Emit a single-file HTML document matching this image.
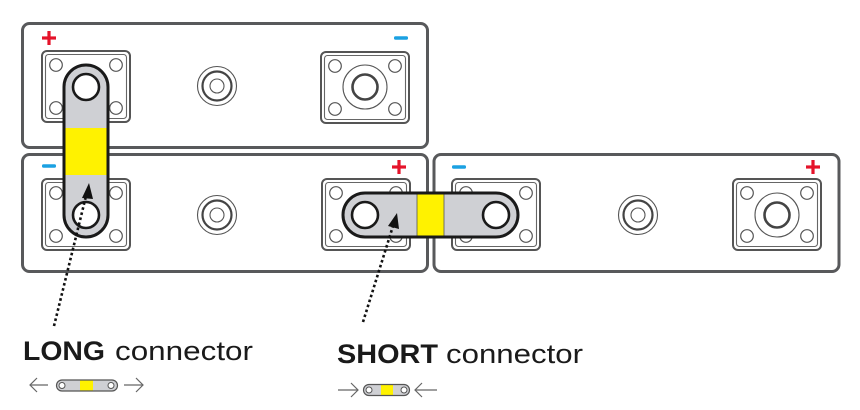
<!DOCTYPE html>
<html><head><meta charset="utf-8"><style>
html,body{margin:0;padding:0;background:#fff;}
svg{display:block;}
</style></head><body>
<svg width="860" height="410" viewBox="0 0 860 410" xmlns="http://www.w3.org/2000/svg">
<defs>
<g id="plate">
  <rect x="0" y="0" width="88" height="71" rx="5" fill="#fff" stroke="#555" stroke-width="2"/>
  <rect x="3.5" y="3.5" width="81" height="64" rx="3" fill="none" stroke="#666" stroke-width="1.1"/>
  <circle cx="14" cy="14" r="6.3" fill="#fff" stroke="#555" stroke-width="1.2"/>
  <circle cx="74" cy="14" r="6.3" fill="#fff" stroke="#555" stroke-width="1.2"/>
  <circle cx="14" cy="57" r="6.3" fill="#fff" stroke="#555" stroke-width="1.2"/>
  <circle cx="74" cy="57" r="6.3" fill="#fff" stroke="#555" stroke-width="1.2"/>
</g>
<g id="bolt">
  <circle cx="0" cy="0" r="22" fill="none" stroke="#555" stroke-width="1.1"/>
  <circle cx="0" cy="0" r="12.5" fill="none" stroke="#444" stroke-width="2.6"/>
</g>
<g id="vent">
  <circle cx="0" cy="0" r="19.5" fill="none" stroke="#555" stroke-width="1.1"/>
  <circle cx="0" cy="0" r="14.5" fill="none" stroke="#444" stroke-width="2.2"/>
  <circle cx="0" cy="0" r="7" fill="none" stroke="#555" stroke-width="1.1"/>
</g>
<g id="plus">
  <rect x="-7" y="-1.6" width="14" height="3.2" fill="#e5132a"/>
  <rect x="-1.6" y="-7" width="3.2" height="14" fill="#e5132a"/>
</g>
<g id="minus">
  <rect x="-7" y="-1.8" width="14" height="3.6" rx="1.5" fill="#1ba1e2"/>
</g>
</defs>

<!-- batteries -->
<rect x="22.5" y="23.5" width="405" height="124" rx="7" fill="#fff" stroke="#58595b" stroke-width="3"/>
<rect x="22.5" y="154.5" width="405" height="117" rx="7" fill="#fff" stroke="#58595b" stroke-width="3"/>
<rect x="434" y="154.5" width="405" height="117" rx="7" fill="#fff" stroke="#58595b" stroke-width="3"/>

<!-- battery 1 -->
<use href="#plate" x="42" y="51"/>
<use href="#plate" x="321" y="52"/>
<use href="#bolt" x="365" y="87"/>
<use href="#vent" x="217" y="86"/>
<use href="#plus" x="49" y="38"/>
<use href="#minus" x="401" y="38"/>

<!-- battery 2 -->
<use href="#plate" x="42" y="179"/>
<use href="#plate" x="322" y="179"/>
<use href="#vent" x="217" y="215"/>
<use href="#minus" x="49" y="166"/>
<use href="#plus" x="399" y="167"/>

<!-- battery 3 -->
<use href="#plate" x="452" y="179"/>
<use href="#plate" x="733" y="179"/>
<use href="#bolt" x="777" y="215"/>
<use href="#vent" x="638" y="215"/>
<use href="#minus" x="459" y="167"/>
<use href="#plus" x="813" y="167"/>

<!-- long connector -->
<rect x="64" y="65" width="44" height="172" rx="22" fill="#cfd0d4"/>
<rect x="64" y="128" width="44" height="47" fill="#fff200"/>
<rect x="64" y="65" width="44" height="172" rx="22" fill="none" stroke="#1a1a1a" stroke-width="3"/>
<circle cx="86" cy="87" r="13" fill="#fff" stroke="#1a1a1a" stroke-width="2.6"/>
<circle cx="86" cy="215" r="13" fill="#fff" stroke="#1a1a1a" stroke-width="2.6"/>

<!-- short connector -->
<rect x="343" y="193" width="175" height="44" rx="22" fill="#cfd0d4"/>
<rect x="417" y="193" width="27" height="44" fill="#fff200"/>
<line x1="417" y1="193" x2="417" y2="237" stroke="#555" stroke-width="0.8"/>
<line x1="444" y1="193" x2="444" y2="237" stroke="#555" stroke-width="0.8"/>
<rect x="343" y="193" width="175" height="44" rx="22" fill="none" stroke="#1a1a1a" stroke-width="3"/>
<circle cx="365" cy="215" r="13" fill="#fff" stroke="#1a1a1a" stroke-width="2.6"/>
<circle cx="496" cy="215" r="13" fill="#fff" stroke="#1a1a1a" stroke-width="2.6"/>

<!-- dotted arrows -->
<line x1="54" y1="326" x2="86" y2="196" stroke="#111" stroke-width="2.6" stroke-dasharray="2.6 2.6"/>
<polygon points="89,183 82,198 93,199" fill="#111"/>
<line x1="363" y1="322" x2="393" y2="226" stroke="#111" stroke-width="2.6" stroke-dasharray="2.6 2.6"/>
<polygon points="397,213 388,226 399,229" fill="#111"/>

<!-- labels -->
<text x="23" y="360" font-family="Liberation Sans, sans-serif" font-size="27" font-weight="bold" fill="#1a1a1a" textLength="82" lengthAdjust="spacingAndGlyphs">LONG</text>
<text x="115" y="360" font-family="Liberation Sans, sans-serif" font-size="27" fill="#1a1a1a" textLength="138" lengthAdjust="spacingAndGlyphs">connector</text>
<text x="337" y="363" font-family="Liberation Sans, sans-serif" font-size="27" font-weight="bold" fill="#1a1a1a" textLength="101" lengthAdjust="spacingAndGlyphs">SHORT</text>
<text x="446" y="363" font-family="Liberation Sans, sans-serif" font-size="27" fill="#1a1a1a" textLength="137" lengthAdjust="spacingAndGlyphs">connector</text>

<!-- long icon -->
<g stroke="#666" stroke-width="1.2" fill="none">
  <line x1="30" y1="385" x2="48" y2="385"/>
  <polyline points="37,378 30,385 37,392"/>
  <line x1="124" y1="385" x2="143" y2="385"/>
  <polyline points="136,378 143,385 136,392"/>
</g>
<rect x="56.5" y="380" width="61" height="11" rx="5.5" fill="#cfd0d4"/>
<rect x="80" y="380" width="13" height="11" fill="#fff200"/>
<rect x="56.5" y="380" width="61" height="11" rx="5.5" fill="none" stroke="#555" stroke-width="1.2"/>
<circle cx="62" cy="385.5" r="3" fill="#fff" stroke="#555" stroke-width="1"/>
<circle cx="111" cy="385.5" r="3" fill="#fff" stroke="#555" stroke-width="1"/>

<!-- short icon -->
<g stroke="#666" stroke-width="1.2" fill="none">
  <line x1="338" y1="390" x2="358" y2="390"/>
  <polyline points="351,383 358,390 351,397"/>
  <line x1="415" y1="390" x2="437" y2="390"/>
  <polyline points="422,383 415,390 422,397"/>
</g>
<rect x="363.5" y="384.5" width="46" height="11" rx="5.5" fill="#cfd0d4"/>
<rect x="381" y="384.5" width="12" height="11" fill="#fff200"/>
<rect x="363.5" y="384.5" width="46" height="11" rx="5.5" fill="none" stroke="#555" stroke-width="1.2"/>
<circle cx="369" cy="390" r="3" fill="#fff" stroke="#555" stroke-width="1"/>
<circle cx="404" cy="390" r="3" fill="#fff" stroke="#555" stroke-width="1"/>
</svg>
</body></html>
